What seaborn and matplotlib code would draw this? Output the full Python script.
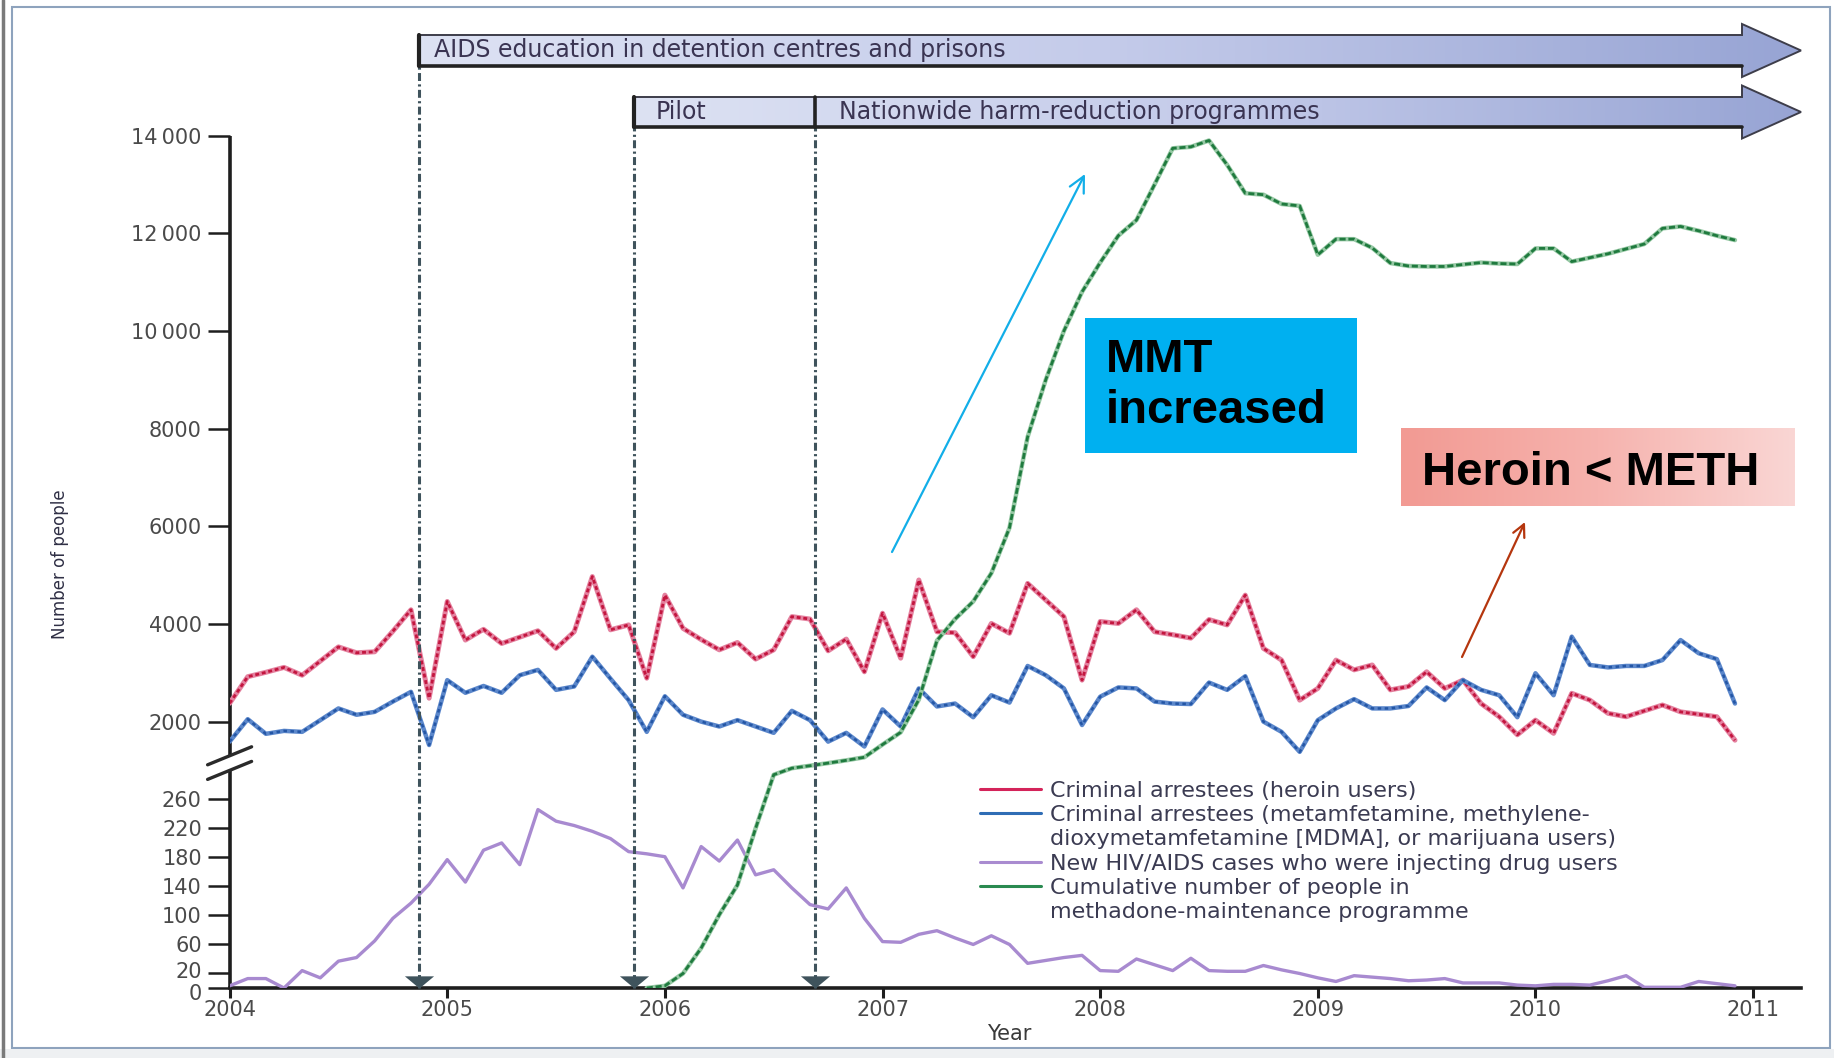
import numpy as np
import matplotlib
matplotlib.use("Agg")
import matplotlib.pyplot as plt
import matplotlib.transforms as mtransforms
import seaborn as sns
from matplotlib.patches import Polygon, Rectangle
from matplotlib.lines import Line2D
from matplotlib.colors import LinearSegmentedColormap

W, H = 1834, 1058

# monthly values, Jan 2004 - Dec 2010
heroin = [2375, 2920, 3010, 3110, 2950, 3240, 3530, 3410, 3430, 3850,
          4290, 2480, 4460, 3670, 3890, 3600, 3730, 3860, 3500, 3840,
          4970, 3880, 3980, 2890, 4590, 3910, 3680, 3470, 3620, 3280,
          3470, 4150, 4100, 3450, 3690, 3020, 4220, 3300, 4900, 3840,
          3820, 3330, 4010, 3810, 4830, 4490, 4150, 2850, 4050, 4010,
          4290, 3840, 3780, 3710, 4090, 3980, 4590, 3500, 3260, 2440,
          2680, 3260, 3060, 3160, 2650, 2720, 3020, 2680, 2850, 2370,
          2100, 1730, 2030, 1760, 2580, 2440, 2170, 2100, 2220, 2340,
          2200, 2150, 2100, 1620]
meth = [1590, 2050, 1750, 1810, 1790, 2030, 2270, 2140, 2200, 2410,
        2610, 1520, 2850, 2590, 2730, 2590, 2950, 3060, 2650, 2720,
        3330, 2880, 2440, 1790, 2520, 2140, 2000, 1900, 2030, 1900,
        1770, 2220, 2030, 1590, 1770, 1490, 2250, 1900, 2680, 2310,
        2370, 2090, 2540, 2390, 3140, 2950, 2680, 1930, 2510, 2700,
        2680, 2410, 2370, 2360, 2800, 2650, 2930, 2000, 1790, 1380,
        2030, 2270, 2460, 2270, 2270, 2320, 2700, 2440, 2850, 2650,
        2540, 2090, 2990, 2540, 3740, 3160, 3110, 3140, 3140, 3260,
        3670, 3400, 3280, 2370]
hiv = [3, 13, 13, 0, 24, 14, 37, 42, 65, 96,
       117, 143, 177, 146, 190, 200, 170, 246, 230, 224,
       216, 206, 188, 185, 181, 138, 195, 175, 204, 156,
       163, 138, 115, 109, 138, 96, 64, 63, 74, 79,
       69, 60, 72, 60, 34, 38, 42, 45, 24, 23,
       40, 32, 24, 41, 24, 23, 23, 31, 25, 20,
       14, 9, 17, 15, 13, 10, 11, 13, 7, 7,
       7, 4, 3, 5, 5, 4, 10, 17, 1, 1,
       1, 9, 6, 3]
# methadone programme, from Dec 2005
mmt_start = 23
mmt = [0, 3, 20, 55, 101, 142, 220, 294, 450, 620,
       800, 990, 1200, 1530, 1780, 2450, 3660, 4100, 4460, 5040,
       5970, 7830, 9000, 10000, 10800, 11400, 11950, 12270, 13000, 13740,
       13770, 13900, 13400, 12820, 12790, 12600, 12560, 11560, 11880, 11880,
       11700, 11390, 11330, 11320, 11320, 11360, 11400, 11380, 11370, 11690,
       11690, 11420, 11500, 11580, 11680, 11780, 12100, 12140, 12050, 11950,
       11860]

events = [2004.87, 2005.86, 2006.69]
lower_ticks = [0, 20, 60, 100, 140, 180, 220, 260]
upper_ticks = [2000, 4000, 6000, 8000, 10000, 12000, 14000]
upper_labels = ["2000", "4000", "6000", "8000", "10\u2009000", "12\u2009000", "14\u2009000"]
year_ticks = list(range(2004, 2012))

legend_rows = [
    ("#d4245a", "Criminal arrestees (heroin users)"),
    ("#2f6db5", "Criminal arrestees (metamfetamine, methylene-"),
    (None, "dioxymetamfetamine [MDMA], or marijuana users)"),
    ("#a98bd0", "New HIV/AIDS cases who were injecting drug users"),
    ("#2a8a50", "Cumulative number of people in"),
    (None, "methadone-maintenance programme"),
]

years = 2004 + np.arange(len(heroin)) / 12
mmt_years = 2004 + (mmt_start + np.arange(len(mmt))) / 12

sns.set_style("white")
plt.rcParams["font.family"] = ["DejaVu Sans"]

fig = plt.figure(figsize=(W / 100, H / 100), dpi=100)
ax = fig.add_axes([229.6 / W, 70 / H, (1801 - 229.6) / W, 852.4 / H])

# broken y axis: low counts at the bottom, large counts above the gap
sv = [-1000, 0, 300, 1300, 14000, 40000]
sh = [-725.5, 0, 217.6, 232.2, 852.4, 852.4 + 26000 * 0.04883]


def fwd(v):
    return np.interp(v, sv, sh)


def inv(h):
    return np.interp(h, sh, sv)


sns.lineplot(x=years, y=heroin, ax=ax, color="#e4819f", lw=3.6, legend=False, zorder=3)
sns.lineplot(x=years, y=heroin, ax=ax, color="#c3163f", lw=2.0, linestyle=(0, (1.4, 1.0)),
             legend=False, zorder=3)
sns.lineplot(x=years, y=meth, ax=ax, color="#5b87cb", lw=3.2, legend=False, zorder=3)
sns.lineplot(x=years, y=meth, ax=ax, color="#2456a5", lw=1.8, linestyle=(0, (1.4, 1.4)),
             legend=False, zorder=3)
sns.lineplot(x=years, y=hiv, ax=ax, color="#a88ad0", lw=2.4, legend=False, zorder=3)
sns.lineplot(x=mmt_years, y=mmt, ax=ax, color="#96c8a4", lw=3.2, legend=False, zorder=4)
sns.lineplot(x=mmt_years, y=mmt, ax=ax, color="#1f7a3e", lw=2.0, linestyle=(0, (2.2, 1.0)),
             legend=False, zorder=4)

ax.set_yscale("function", functions=(fwd, inv))
ax.set_xlim(2004, 2011.22)
ax.set_ylim(0, 14000)

ax.set_yticks(lower_ticks + upper_ticks)
ax.set_yticklabels([str(t) for t in lower_ticks] + upper_labels)
ax.yaxis.set_minor_locator(matplotlib.ticker.NullLocator())
ax.set_xticks(year_ticks)
ax.set_xticklabels([str(y) for y in year_ticks])

ax.tick_params(axis="y", direction="out", length=16, width=1.8, color="#1e1e1e",
               labelsize=15, labelcolor="#4a4a4a", pad=4, left=True)
ax.tick_params(axis="x", direction="out", length=7, width=2.2, color="#1e1e1e",
               labelsize=15, labelcolor="#4a4a4a", pad=1.5, bottom=True)

# nudge the two crowded bottom labels apart a little
ylabels = ax.get_yticklabels()
ylabels[0].set_transform(ylabels[0].get_transform()
                         + mtransforms.ScaledTranslation(0, -0.04, fig.dpi_scale_trans))
ylabels[1].set_transform(ylabels[1].get_transform()
                         + mtransforms.ScaledTranslation(0, 0.03, fig.dpi_scale_trans))

for s in ["top", "right", "left"]:
    ax.spines[s].set_visible(False)
ax.spines["bottom"].set_color("#1e1e1e")
ax.spines["bottom"].set_linewidth(2.6)

# left spine in two pieces around the break
ax.plot([2004, 2004], [0, 300], color="#1e1e1e", lw=2.6, clip_on=False, solid_capstyle="butt")
ax.plot([2004, 2004], [1300, 14000], color="#1e1e1e", lw=2.6, clip_on=False, solid_capstyle="butt")

ax.set_xlabel("Year", fontsize=15, color="#3a3a3a")
ax.xaxis.set_label_coords(0.496, -0.042)
ax.set_ylabel("Number of people", fontsize=12, color="#2f2f45")
ax.yaxis.set_label_coords(-0.102, 0.497)

# event lines with triangles at the bottom
trans = ax.get_xaxis_transform()
tops = [(988 - 66) / 852.4, (988 - 127) / 852.4, (988 - 127) / 852.4]
tri = [(-2.4, 2.0), (2.4, 2.0), (0, 0)]
for ev, top in zip(events, tops):
    ax.plot([ev, ev], [0, top], transform=trans, clip_on=False, color="#3f535c", lw=2.2,
            linestyle=(0, (2.6, 1.1, 0.7, 1.1)), zorder=5)
    ax.plot([ev], [0], transform=trans, clip_on=False, marker=tri, ms=21,
            color="#3f535c", mec="none", zorder=6)

handles = [Line2D([], [], color=c if c else "none", lw=2.2) for c, _ in legend_rows]
leg = ax.legend(handles, [t for _, t in legend_rows], loc="upper left",
                bbox_to_anchor=(980 / W, 1 - 781 / H), bbox_transform=fig.transFigure,
                frameon=False, fontsize=16, handlelength=2.75, handletextpad=0.4,
                labelspacing=0.19, borderpad=0, borderaxespad=0)
for t in leg.get_texts():
    t.set_color("#3b3b52")


def px(x, v):
    dx, dy = ax.transData.transform((x, v))
    return dx, H - dy


# overlay in figure pixels for the programme bars and notes
deco = fig.add_axes([0, 0, 1, 1], zorder=5)
deco.set_axis_off()
deco.patch.set_alpha(0)

# break marks on the y axis
for v in (300, 1300):
    cx, cy = px(2004, v)
    deco.plot([cx - 22, cx + 22], [cy + 9, cy - 9], color="#2a2a2a", lw=2.4)

bar_cmap = LinearSegmentedColormap.from_list("bar", ["#dde2f3", "#c4cbea", "#97a4d4"])
x_end = px(2011.22, 0)[0]


def arrow_bar(x0, top, bottom):
    xhead = x_end - 59
    mid = (top + bottom) / 2
    half = 26.5
    pts = [(x0, top), (xhead, top), (xhead, mid - half), (x_end, mid),
           (xhead, mid + half), (xhead, bottom), (x0, bottom)]
    poly = Polygon(pts, closed=True, fc="none", ec="#3d3d4a", lw=1.4, zorder=3)
    deco.add_patch(poly)
    im = deco.imshow(np.linspace(0, 1, 256)[None, :], extent=[x0, x_end, mid + half, mid - half],
                     cmap=bar_cmap, aspect="auto", zorder=2)
    im.set_clip_path(poly)
    deco.plot([x0, xhead], [bottom, bottom], color="#222222", lw=2.6, zorder=4)
    deco.plot([x0, x0], [top, bottom], color="#222222", lw=3, zorder=4)
    return mid


e1 = px(events[0], 0)[0]
e2 = px(events[1], 0)[0]
e3 = px(events[2], 0)[0]
m1 = arrow_bar(e1, 35, 66)
m2 = arrow_bar(e2, 97, 127)
deco.plot([e3, e3], [97, 127], color="#222222", lw=2.6, zorder=4)

bar_text = dict(fontsize=17, color="#3a3452", va="center", ha="left", zorder=5)
deco.text(e1 + 15, m1, "AIDS education in detention centres and prisons", **bar_text)
deco.text(e2 + 21, m2, "Pilot", **bar_text)
deco.text(e3 + 24, m2, "Nationwide harm-reduction programmes", **bar_text)

# notes
deco.add_patch(Rectangle((1085, 318), 272, 135, fc="#00b0f0", ec="none", zorder=2))
deco.text(1106, 338, "MMT\nincreased", fontsize=34, fontweight="bold", family="Liberation Sans",
          va="top", ha="left", color="black", linespacing=1.2, zorder=3)
deco.annotate("", xy=(1085, 174), xytext=(892, 552),
              arrowprops=dict(arrowstyle="->", color="#12aee8", lw=1.6, mutation_scale=28,
                              shrinkA=0, shrinkB=0))

pink = LinearSegmentedColormap.from_list("pink", ["#f29a93", "#f6b3ae", "#fad6d4"])
deco.imshow(np.linspace(0, 1, 256)[None, :], extent=[1401, 1795, 506, 428], cmap=pink,
            aspect="auto", zorder=2)
deco.text(1422, 485, "Heroin < METH", fontsize=34, fontweight="bold", family="Liberation Sans",
          va="baseline", ha="left", color="black", zorder=3)
deco.annotate("", xy=(1525, 522), xytext=(1462, 657),
              arrowprops=dict(arrowstyle="->", color="#b5360e", lw=1.6, mutation_scale=22,
                              shrinkA=0, shrinkB=0))

# slide frame
deco.add_patch(Rectangle((12, 7), 1818, 1041, fill=False, ec="#8ea3bd", lw=1.5))
deco.add_patch(Rectangle((0, 1049), W, 9, fc="#eef0f2", ec="none"))
deco.plot([3, 3], [0, H], color="#7a7a7a", lw=2.5)

deco.set_xlim(0, W)
deco.set_ylim(H, 0)

fig.savefig("out.png", dpi=100, facecolor="white")
